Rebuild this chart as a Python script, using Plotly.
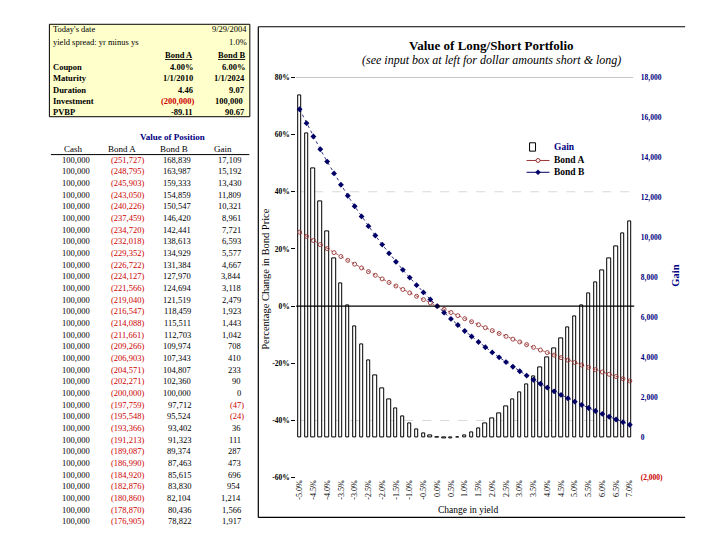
import plotly.graph_objects as go

W, H = 720, 540
SERIF = "Liberation Serif, Times New Roman, serif"
NAVY = "#000080"
RED = "#CC0000"
COL_A = "#993333"
COL_B = "#000066"


def px(x):
    return x / W


def py(y):
    return 1 - y / H


# ---------------- data ----------------
yield_change = [-5.00, -4.75, -4.50, -4.25, -4.00, -3.75, -3.50, -3.25, -3.00, -2.75,
                -2.50, -2.25, -2.00, -1.75, -1.50, -1.25, -1.00, -0.75, -0.50, -0.25,
                0.00, 0.25, 0.50, 0.75, 1.00, 1.25, 1.50, 1.75, 2.00, 2.25,
                2.50, 2.75, 3.00, 3.25, 3.50, 3.75, 4.00, 4.25, 4.50, 4.75,
                5.00, 5.25, 5.50, 5.75, 6.00, 6.25, 6.50, 6.75, 7.00]

# value of short Bond A position (magnitude), long Bond B position, and gain
bond_a_value = [251727, 248795, 245903, 243050, 240226, 237459, 234720, 232018, 229352, 226722,
                224127, 221566, 219040, 216547, 214088, 211661, 209266, 206903, 204571, 202271,
                200000, 197759, 195548, 193366, 191213, 189087, 186990, 184920, 182876, 180860,
                178870, 176905, 174970, 173065, 171190, 169345, 167530, 165745, 163985, 162250,
                160540, 158855, 157195, 155560, 153950, 152360, 150790, 149240, 147710]
bond_b_value = [168839, 163987, 159333, 154859, 150547, 146420, 142441, 138613, 134929, 131384,
                127970, 124694, 121519, 118459, 115511, 112703, 109974, 107343, 104807, 102360,
                100000, 97712, 95524, 93402, 91323, 89374, 87463, 85615, 83830, 82104,
                80436, 78822, 77230, 75715, 74260, 72865, 71520, 70215, 68965, 67750,
                66590, 65465, 64385, 63340, 62320, 61330, 60370, 59430, 58520]
gain = [17109, 15192, 13430, 11809, 10321, 8961, 7721, 6593, 5577, 4667,
        3844, 3118, 2479, 1923, 1443, 1042, 708, 410, 233, 90,
        0, -47, -24, 36, 111, 287, 473, 696, 954, 1214,
        1566, 1917, 2260, 2650, 3070, 3520, 3990, 4470, 4980, 5500,
        6050, 6610, 7190, 7780, 8370, 8970, 9580, 10190, 10810]
cash_balance = 100000
table_rows = 32

# input box
todays_date = "9/29/2004"
yield_spread = "1.0%"
input_labels = ["Coupon", "Maturity", "Duration", "Investment", "PVBP"]
bond_a_inputs = ["4.00%", "1/1/2010", "4.46", -200000, "-89.11"]
bond_b_inputs = ["6.00%", "1/1/2024", "9.07", 100000, "90.67"]

invest_a = abs(bond_a_inputs[3])
invest_b = bond_b_inputs[3]
bond_a_pct = [v / invest_a - 1 for v in bond_a_value]
bond_b_pct = [v / invest_b - 1 for v in bond_b_value]

left_ticks = [-0.6, -0.4, -0.2, 0.0, 0.2, 0.4, 0.6, 0.8]
gain_ticks = [-2000, 0, 2000, 4000, 6000, 8000, 10000, 12000, 14000, 16000, 18000]


def acct(v):
    return "(" + f"{-v:,}" + ")" if v < 0 else f"{v:,}"


# ---------------- figure ----------------
fig = go.Figure()

fig.add_trace(go.Bar(
    x=yield_change, y=gain, yaxis="y", width=0.125,
    marker=dict(color="white", line=dict(color="black", width=1)),
    name="Gain"))
fig.add_trace(go.Scatter(
    x=yield_change, y=bond_a_pct, yaxis="y2", mode="lines+markers",
    line=dict(color=COL_A, width=0.8, dash="dot"),
    marker=dict(symbol="circle-open", size=4, color=COL_A, line=dict(width=0.9)),
    name="Bond A"))
fig.add_trace(go.Scatter(
    x=yield_change, y=bond_b_pct, yaxis="y2", mode="lines+markers",
    line=dict(color=COL_B, width=0.8, dash="dot"),
    marker=dict(symbol="diamond", size=4.5, color=COL_B),
    name="Bond B"))

xdom = [px(288), px(626)]
ydom = [py(473.6), py(66.5)]

gain_text = []
for t in gain_ticks:
    if t < 0:
        gain_text.append('<span style="color:#CC0000">' + acct(t) + "</span>")
    else:
        gain_text.append(acct(t))

fig.update_layout(
    width=W, height=H, autosize=False,
    margin=dict(l=0, r=0, t=0, b=0),
    paper_bgcolor="white", plot_bgcolor="rgba(0,0,0,0)",
    font=dict(family=SERIF, color="black"),
    bargap=0,
    showlegend=False,
    xaxis=dict(domain=xdom, range=[-5.125, 7.125], showgrid=False, zeroline=False,
               showline=False, ticks="",
               tickvals=yield_change[::2],
               ticktext=[f"{v:.1f}%" for v in yield_change[::2]],
               tickangle=-90, tickfont=dict(size=8, family=SERIF, color="black"),
               anchor="y2"),
    yaxis=dict(domain=ydom, range=[-2000, 18000], side="right", showgrid=False,
               zeroline=False, showline=False, ticks="outside", ticklen=5,
               tickcolor="white", tickvals=gain_ticks, ticktext=gain_text,
               tickfont=dict(size=7.5, family=SERIF, color=NAVY, weight="bold"),
               anchor="x"),
    yaxis2=dict(domain=ydom, range=[-0.6, 0.8], overlaying="y", side="left",
                showgrid=False, zeroline=False, showline=False, ticks="outside",
                ticklen=4, tickcolor="black", tickvals=left_ticks,
                ticktext=[f"{round(t * 100)}%" for t in left_ticks],
                tickfont=dict(size=7.5, family=SERIF, color="black", weight="bold"),
                anchor="x"),
)

shapes = []
# chart frame
shapes.append(dict(type="line", xref="paper", yref="paper", x0=px(250), x1=px(678),
                   y0=py(15), y1=py(15), line=dict(color="black", width=1.2)))
shapes.append(dict(type="line", xref="paper", yref="paper", x0=px(250), x1=px(250),
                   y0=py(15), y1=py(514), line=dict(color="black", width=1.2)))
shapes.append(dict(type="line", xref="paper", yref="paper", x0=px(250), x1=px(678),
                   y0=py(514), y1=py(514), line=dict(color="black", width=1.2)))
# gridlines
shapes.append(dict(type="line", xref="paper", yref="y2", x0=xdom[0], x1=xdom[1],
                   y0=0.8, y1=0.8, line=dict(color="#808080", width=1), layer="below"))
for gv in [0.4, -0.4]:
    shapes.append(dict(type="line", xref="paper", yref="y2", x0=xdom[0], x1=xdom[1],
                       y0=gv, y1=gv, line=dict(color="#D8D8D8", width=1, dash="dash"),
                       layer="below"))
shapes.append(dict(type="line", xref="paper", yref="y2", x0=xdom[0], x1=px(627),
                   y0=0, y1=0, line=dict(color="black", width=1.2), layer="above"))
# input box
shapes.append(dict(type="rect", xref="paper", yref="paper", x0=px(40.5), x1=px(241.5),
                   y0=py(106.5), y1=py(12.5), fillcolor="#FFFFCC",
                   line=dict(color="black", width=1), layer="below"))
# table header underline
shapes.append(dict(type="line", xref="paper", yref="paper", x0=px(42), x1=px(241),
                   y0=py(145), y1=py(145), line=dict(color="black", width=1)))

# legend symbols (drawn by hand to match compact spacing)
shapes.append(dict(type="rect", xref="paper", yref="paper", x0=px(522), x1=px(528),
                   y0=py(141.5), y1=py(133), fillcolor="white",
                   line=dict(color="black", width=1)))
shapes.append(dict(type="line", xref="paper", yref="paper", x0=px(519), x1=px(542),
                   y0=py(151), y1=py(151), line=dict(color=COL_A, width=1)))
shapes.append(dict(type="circle", xref="paper", yref="paper", x0=px(528.5), x1=px(532.5),
                   y0=py(153), y1=py(149), fillcolor="white",
                   line=dict(color=COL_A, width=1)))
shapes.append(dict(type="line", xref="paper", yref="paper", x0=px(519), x1=px(542),
                   y0=py(163), y1=py(163), line=dict(color=COL_B, width=1)))
shapes.append(dict(type="path", xref="paper", yref="paper",
                   path=(f"M {px(530.5)} {py(160.5)} L {px(533)} {py(163)} "
                         f"L {px(530.5)} {py(165.5)} L {px(528)} {py(163)} Z"),
                   fillcolor=COL_B, line=dict(color=COL_B, width=0.5)))

ann = []


def text(x, y, s, anchor="left", size=8.5, color="black", bold=False, italic=False,
         angle=0):
    ann.append(dict(x=px(x), y=py(y), xref="paper", yref="paper", text=s,
                    showarrow=False, xanchor=anchor, yanchor="middle", textangle=angle,
                    font=dict(family=SERIF, size=size, color=color,
                              weight="bold" if bold else "normal",
                              style="italic" if italic else "normal")))


# input box text
text(42, 17.5, "Today's date")
text(241, 17.5, todays_date, "right")
text(42, 31, "yield spread: yr minus ys")
text(241, 31, yield_spread, "right")
text(187, 44, "<u>Bond A</u>", "right", bold=True)
text(239, 44, "<u>Bond B</u>", "right", bold=True)
row_y = [55.5, 67.5, 79, 90.5, 101.5]
for lab, a, b, yy in zip(input_labels, bond_a_inputs, bond_b_inputs, row_y):
    text(42, yy, lab, bold=True)
    if isinstance(a, int):
        text(188, yy, acct(a), "right", color=RED if a < 0 else "black", bold=True)
        text(237, yy, acct(b), "right", color=RED if b < 0 else "black", bold=True)
    else:
        text(187, yy, a, "right", bold=True)
        text(239, yy, b, "right", bold=True)

# value of position table
text(164, 127.5, "Value of Position", "center", size=9, color=NAVY, bold=True)
text(65, 139, "Cash", "center", size=9)
text(113, 139, "Bond A", "center", size=9)
text(165, 139, "Bond B", "center", size=9)
text(215, 139, "Gain", "center", size=9)
for i in range(table_rows):
    yy = 150.3 + i * 11.86
    text(83.5, yy, f"{cash_balance:,}", "right")
    text(137.5, yy, acct(-bond_a_value[i]), "right", color=RED)
    text(185, yy, acct(bond_b_value[i]), "right")
    g = gain[i]
    if g < 0:
        text(238, yy, acct(g), "right", color=RED)
    else:
        text(234.5, yy, acct(g), "right")

# chart titles
text(484, 34, "Value of Long/Short Portfolio", "center", size=13, bold=True)
text(484, 48.5, "(see input box at left for dollar amounts short & long)", "center",
     size=12, italic=True)
text(257, 272, "Percentage Change in Bond Price", "center", size=10.5, angle=-90)
text(668, 268, "Gain", "center", size=10.5, color=NAVY, bold=True, angle=-90)
text(460, 506, "Change in yield", "center", size=9.5)

# legend text
text(545, 137, "Gain", size=9.5, color=NAVY, bold=True)
text(545, 151, "Bond A", size=9.5, bold=True)
text(545, 163, "Bond B", size=9.5, bold=True)

fig.update_layout(shapes=shapes, annotations=ann)
fig.write_html("out.html")
